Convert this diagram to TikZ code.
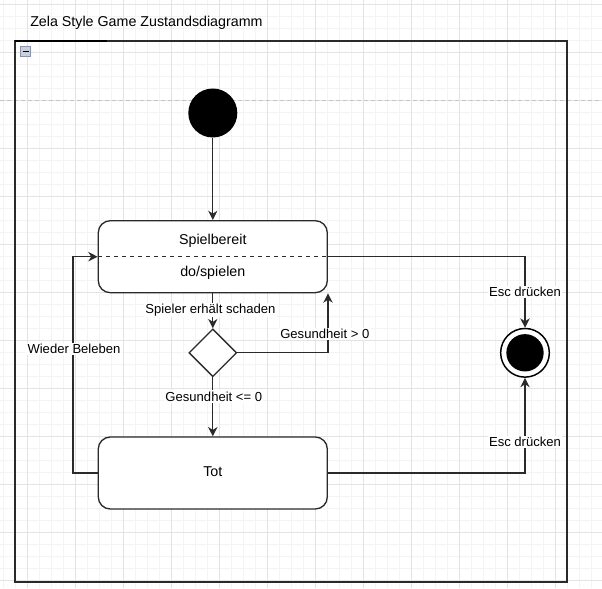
\documentclass[tikz,border=0pt]{standalone}
\usepackage{fontspec}
\setmainfont{Liberation Sans}
\usetikzlibrary{shapes.geometric,arrows.meta}
\definecolor{gridmin}{HTML}{F4F4F4}
\definecolor{gridmaj}{HTML}{E3E3E3}
\definecolor{pagebrk}{HTML}{C4C4C4}
\definecolor{linegray}{HTML}{2A2A2A}
\definecolor{iconfill}{HTML}{C9CFDB}
\definecolor{iconline}{HTML}{8A94A8}
\begin{document}
\begin{tikzpicture}[x=0.75pt,y=-0.75pt,
  statebox/.style={draw=linegray, line width=1pt, rounded corners=9pt, fill=white,
    minimum width=171.75pt, minimum height=54pt, inner sep=0pt},
  boxtext/.style={font=\fontsize{10.7}{12}\selectfont, inner sep=1pt},
  edgetext/.style={font=\fontsize{9.8}{11}\selectfont, fill=white, inner sep=1pt},
  trans/.style={draw=linegray, line width=1pt, -{Stealth[length=7pt,width=7pt,inset=2.2pt]}},
]
\useasboundingbox (0,0) rectangle (602,588);
\fill[white] (0,0) rectangle (602,588);
% grid
\foreach \gx in {3,15,...,603} \draw[gridmin, line width=0.6pt] (\gx,0) -- (\gx,588);
\foreach \gy in {4,16,...,588} \draw[gridmin, line width=0.6pt] (0,\gy) -- (602,\gy);
\foreach \gx in {27,75,...,603} \draw[gridmaj, line width=0.6pt] (\gx,0) -- (\gx,588);
\foreach \gy in {4,52,...,588} \draw[gridmaj, line width=0.6pt] (0,\gy) -- (602,\gy);
\draw[pagebrk, line width=0.75pt, dash pattern=on 3pt off 2.25pt] (0,101) -- (602,101);

% frame
\node[anchor=west, font=\fontsize{10.7}{12}\selectfont, inner sep=0pt] (title) at (30,22.5) {Zela Style Game Zustandsdiagramm};
\draw[linegray, line width=1.1pt] (15,41) rectangle (567,582);
\draw[black, line width=1.5pt] (15,41) -- (107,41);
\node[draw=iconline, fill=iconfill, line width=0.6pt, minimum size=7.5pt, inner sep=0pt] (fold) at (25.5,51.3) {};
\draw[black, line width=1.1pt] (22.5,51.3) -- (28.5,51.3);

% states
\node[circle, fill=black, minimum size=36.75pt, inner sep=0pt] (start) at (212.8,113) {};
\node[statebox] (spiel) at (212.8,256.7) {};
\draw[linegray, line width=0.6pt, dashed] (spiel.west) -- (spiel.east);
\node[boxtext] (spielname) at (212.8,240.7) {Spielbereit};
\node[boxtext] (spieldo) at (212.8,273) {do/spielen};
\node[diamond, draw=linegray, line width=1pt, fill=white, minimum width=35.8pt, minimum height=35.8pt, inner sep=0pt] (check) at (212.8,352.8) {};
\node[statebox] (tot) at (212.8,473) {};
\node[boxtext] (totname) at (212.8,472) {Tot};
\node[circle, draw=black, line width=1.1pt, fill=white, minimum size=36.5pt, inner sep=0pt] (ende) at (525,352.8) {};
\node[circle, fill=black, minimum size=28pt, inner sep=0pt] (endekern) at (525,352.8) {};

% transitions
\draw[trans] (start) -- (spiel.north);
\draw[trans] (spiel.south) -- (check.north);
\draw[trans] (check.east) -| (spiel.south east);
\draw[trans] (check.south) -- (tot.north);
\draw[trans] (tot.west) -- ++(-24.5,0) |- (spiel.west);
\draw[trans] (spiel.east) -| (ende.north);
\draw[trans] (tot.east) -| (ende.south);

% labels
\node[edgetext] (lschaden) at (210.5,310) {Spieler erhält schaden};
\node[edgetext] (lgroesser) at (324.8,334) {Gesundheit > 0};
\node[edgetext] (lkleiner) at (213.8,396.5) {Gesundheit <= 0};
\node[edgetext] (lbeleben) at (74,349) {Wieder Beleben};
\node[edgetext] (lescoben) at (525,292.3) {Esc drücken};
\node[edgetext] (lescunten) at (525,442) {Esc drücken};
\end{tikzpicture}
\end{document}
